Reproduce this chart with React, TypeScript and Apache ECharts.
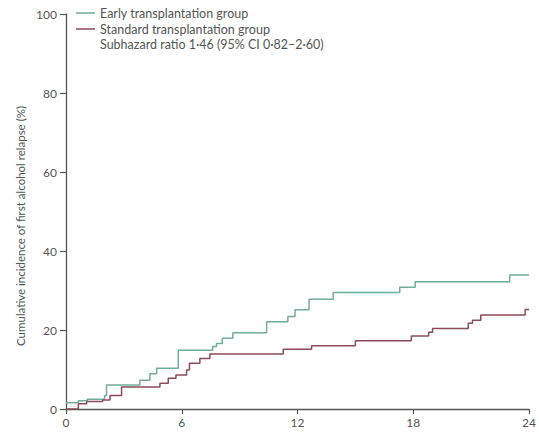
import React, { useEffect, useRef } from "react";
import * as echarts from "echarts";

const earlyTimes = [0, 0.64, 1.1, 2.0, 2.1, 3.83, 4.35, 4.7, 5.82, 7.6, 7.8, 8.1, 8.65, 10.4, 11.5, 11.87, 12.6, 13.85, 17.3, 18.1, 23.0, 24.0];
const earlyValues = [1.6, 2.1, 2.5, 3.4, 6.1, 7.3, 8.9, 10.3, 14.9, 15.8, 16.6, 17.9, 19.3, 22.1, 23.4, 25.1, 27.8, 29.5, 30.8, 32.2, 33.9, 33.9];
const standardTimes = [0, 0.64, 1.07, 1.9, 2.28, 2.88, 4.87, 5.3, 5.7, 6.25, 6.4, 6.94, 7.46, 11.26, 12.73, 15.0, 17.9, 18.8, 19.0, 20.85, 21.07, 21.5, 23.8, 24.0];
const standardValues = [0, 1.3, 1.9, 2.3, 3.4, 5.6, 6.5, 7.8, 8.6, 9.9, 11.6, 12.8, 13.9, 15.1, 16.0, 17.3, 18.5, 19.4, 20.4, 21.7, 22.5, 23.8, 25.2, 25.2];
const seriesNames = ["Early transplantation group", "Standard transplantation group"];
const annotation = "Subhazard ratio 1·46 (95% CI 0·82–2·60)";
const yAxisTitle = "Cumulative incidence of first alcohol relapse (%)";

const FONT = "Lato, 'Open Sans', sans-serif";
const GREEN = "#6fae9c";
const RED = "#8c4b58";
const AXIS = "#555555";

export default function App() {
  const ref = useRef<HTMLDivElement>(null);
  useEffect(() => {
    if (!ref.current) return;
    const chart = echarts.init(ref.current, null, { renderer: "svg" });
    const early = earlyTimes.map((t, i) => [t, earlyValues[i]]);
    const standard = standardTimes.map((t, i) => [t, standardValues[i]]);
    chart.setOption({
      animation: false,
      backgroundColor: "#ffffff",
      textStyle: { fontFamily: FONT },
      grid: { left: 66, top: 14, right: 10, bottom: 25, containLabel: false },
      legend: {
        orient: "vertical",
        left: 76,
        top: 6,
        padding: 0,
        itemGap: 2,
        itemWidth: 19,
        itemHeight: 1.5,
        icon: "rect",
        textStyle: { fontFamily: FONT, fontSize: 12.5, lineHeight: 14, color: "#555", padding: [0, 0, 0, 0] },
        data: seriesNames,
      },
      graphic: [
        {
          type: "text",
          left: 100,
          top: 38,
          style: { text: annotation, font: `12.5px ${FONT}`, fill: "#555" },
        },
        {
          type: "text",
          x: 20,
          y: 226,
          rotation: Math.PI / 2,
          style: {
            text: yAxisTitle,
            font: `11.5px ${FONT}`,
            fill: "#555",
            align: "center",
            verticalAlign: "middle",
          },
        },
      ],
      xAxis: {
        type: "value",
        min: 0,
        max: 24,
        interval: 6,
        axisLine: { lineStyle: { color: AXIS, width: 1.3 } },
        axisTick: { show: true, length: 5, lineStyle: { color: AXIS, width: 1.2 } },
        axisLabel: { color: "#555", fontSize: 12, margin: 7, fontFamily: FONT },
        splitLine: { show: false },
      },
      yAxis: {
        type: "value",
        min: 0,
        max: 100,
        interval: 20,
        axisLine: { show: true, lineStyle: { color: AXIS, width: 1.3 } },
        axisTick: { show: true, length: 6, lineStyle: { color: AXIS, width: 1.2 } },
        axisLabel: { color: "#555", fontSize: 12, margin: 9, fontFamily: FONT },
        splitLine: { show: false },
      },
      series: [
        {
          name: seriesNames[0],
          type: "line",
          step: "end",
          data: early,
          symbol: "none",
          lineStyle: { color: GREEN, width: 1.5 },
          itemStyle: { color: GREEN },
        },
        {
          name: seriesNames[1],
          type: "line",
          step: "end",
          data: standard,
          symbol: "none",
          lineStyle: { color: RED, width: 1.5 },
          itemStyle: { color: RED },
        },
      ],
    });
    return () => chart.dispose();
  }, []);
  return <div ref={ref} style={{ width: 539, height: 434, position: "absolute", left: 0, top: 0 }} />;
}
